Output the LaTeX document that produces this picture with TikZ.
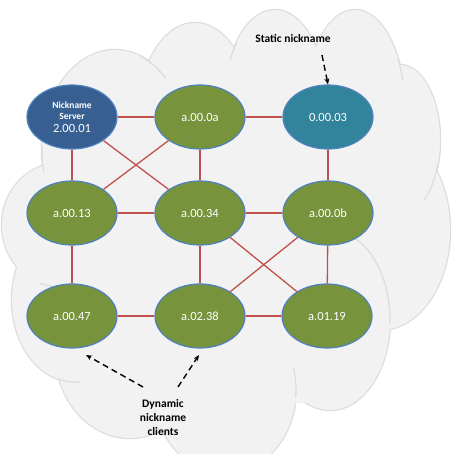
\documentclass[tikz,border=0pt]{standalone}
\usepackage{fontspec}
\setmainfont{Carlito}
\usetikzlibrary{shapes.geometric,arrows.meta}
\definecolor{cloudfill}{HTML}{F2F2F2}
\definecolor{cloudline}{HTML}{DCDCDC}
\definecolor{srvblue}{HTML}{375F92}
\definecolor{tealnode}{HTML}{31849B}
\definecolor{olivenode}{HTML}{77933C}
\definecolor{nodeborder}{HTML}{4F81BD}
\definecolor{linkred}{HTML}{C0504D}
\newcommand{\smallbold}{\fontsize{9.5}{11}\selectfont\bfseries}
\newcommand{\nodefont}{\fontsize{12.5}{14}\selectfont\mdseries}
\tikzset{
  netnode/.style={ellipse, minimum width=90pt, minimum height=64pt, inner sep=0pt,
    draw=nodeborder, line width=1.2pt, text=white, font=\nodefont, align=center},
  greennode/.style={netnode, fill=olivenode},
  link/.style={draw=linkred, line width=1.3pt},
  callout/.style={font=\fontsize{11.5}{14}\selectfont\bfseries, align=center, text=black},
  pointer/.style={dashed, dash pattern=on 6pt off 4pt, line width=1.4pt, -{Stealth[length=6pt,width=5pt]}},
  cloudedge/.style={draw=cloudline, line width=2.4pt},
  cloudinner/.style={draw=cloudline, line width=1.2pt}
}
\begin{document}
\begin{tikzpicture}[x=1pt,y=-1pt]
\useasboundingbox (0,0) rectangle (463,454);
% cloud
\foreach \cx/\cy/\rx/\ry in {115/150/73/100, 195/110/55/87, 275/100/50/90, 355/110/50/100, 400/140/40/75, 380/230/70/100, 330/320/60/90, 225/390/71/83, 130/350/75/88, 75/300/63/82, 60/225/58/62}
  \draw[cloudedge] (\cx,\cy) ellipse [x radius=\rx pt, y radius=\ry pt];
\foreach \cx/\cy/\rx/\ry in {115/150/73/100, 195/110/55/87, 275/100/50/90, 355/110/50/100, 400/140/40/75, 380/230/70/100, 330/320/60/90, 225/390/71/83, 130/350/75/88, 75/300/63/82, 60/225/58/62}
  \fill[cloudfill] (\cx,\cy) ellipse [x radius=\rx pt, y radius=\ry pt];
\fill[cloudfill] (60,120) -- (400,120) -- (380,300) -- (330,400) -- (130,420) -- (70,360) -- cycle;
% inner arcs of the cloud
\begin{scope}\clip (350,240) rectangle (393,322); \draw[cloudinner] (330,320) ellipse [x radius=60pt, y radius=90pt];\end{scope}
\begin{scope}\clip (140,55) rectangle (166,85); \draw[cloudinner] (115,150) ellipse [x radius=73pt, y radius=100pt];\end{scope}
\begin{scope}\clip (395,60) rectangle (410,80); \draw[cloudinner] (355,110) ellipse [x radius=50pt, y radius=100pt];\end{scope}
\begin{scope}\clip (415,165) rectangle (438,200); \draw[cloudinner] (400,140) ellipse [x radius=40pt, y radius=75pt];\end{scope}
\begin{scope}\clip (280,368) rectangle (305,396); \draw[cloudinner] (225,390) ellipse [x radius=71pt, y radius=83pt];\end{scope}
\begin{scope}\clip (58,370) rectangle (80,386); \draw[cloudinner] (75,300) ellipse [x radius=63pt, y radius=82pt];\end{scope}
\begin{scope}\clip (40,275) rectangle (70,290); \draw[cloudinner] (60,225) ellipse [x radius=58pt, y radius=62pt];\end{scope}
\begin{scope}\clip (38,148) rectangle (50,172); \draw[cloudinner] (115,150) ellipse [x radius=73pt, y radius=100pt];\end{scope}
\begin{scope}\clip (230,44) rectangle (240,60); \draw[cloudinner] (275,100) ellipse [x radius=50pt, y radius=90pt];\end{scope}

% nodes
\node[netnode, fill=srvblue] (srv) at (72,117) {\smallbold Nickname\\[-3pt]\smallbold Server\\[-1pt]\nodefont 2.00.01};
\node[greennode] (n0a) at (200,117) {a.00.0a};
\node[netnode, fill=tealnode] (n03) at (328,117) {0.00.03};
\node[greennode] (n13) at (72,213) {a.00.13};
\node[greennode] (n34) at (200,213) {a.00.34};
\node[greennode] (n0b) at (328,213) {a.00.0b};
\node[greennode] (n47) at (72,316) {a.00.47};
\node[greennode] (n238) at (200,316) {a.02.38};
\node[greennode] (n119) at (327,316) {a.01.19};

% links
\draw[link] (srv) -- (n0a);
\draw[link] (n0a) -- (n03);
\draw[link] (srv) -- (n13);
\draw[link] (n0a) -- (n34);
\draw[link] (n03) -- (n0b);
\draw[link] (srv) -- (n34);
\draw[link] (n0a) -- (n13);
\draw[link] (n13) -- (n34);
\draw[link] (n34) -- (n0b);
\draw[link] (n13) -- (n47);
\draw[link] (n34) -- (n238);
\draw[link] (n0b) -- (n119);
\draw[link] (n34) -- (n119);
\draw[link] (n0b) -- (n238);
\draw[link] (n47) -- (n238);
\draw[link] (n238) -- (n119);

% callouts
\node[callout] (static) at (293,39) {Static nickname};
\coordinate (staticstart) at (322,55);
\draw[pointer] (staticstart) -- (n03.north);
\node[callout] (dyn) at (163,418) {Dynamic\\nickname\\clients};
\coordinate (dynA) at (143,387);
\coordinate (dynAend) at (86,355);
\coordinate (dynB) at (178,387);
\coordinate (dynBend) at (199,355);
\draw[pointer] (dynA) -- (dynAend);
\draw[pointer] (dynB) -- (dynBend);
\end{tikzpicture}
\end{document}
